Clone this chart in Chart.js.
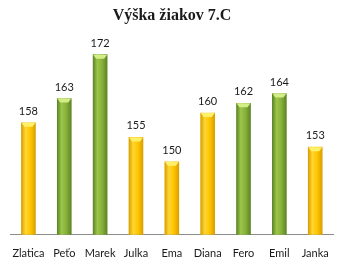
<!DOCTYPE html>
<html>
<head>
<meta charset="utf-8">
<script src="https://cdn.jsdelivr.net/npm/chart.js@4.4.1/dist/chart.umd.min.js"></script>
<style>
  html, body { margin: 0; padding: 0; background: #fff; }
  #wrap { width: 341px; height: 262px; }
</style>
</head>
<body>
<div id="wrap"><canvas id="vyska"></canvas></div>
<script>
// student names and heights (cm)
const names = ['Zlatica', 'Peťo', 'Marek', 'Julka', 'Ema', 'Diana', 'Fero', 'Emil', 'Janka'];
const heights = [158, 163, 172, 155, 150, 160, 162, 164, 153];
// g = girl (yellow), b = boy (green)
const groups = ['g', 'b', 'b', 'g', 'g', 'g', 'b', 'b', 'g'];

const BAR_W = 14;

// colours for each group: edge, middle, top cap
const palette = {
  g: { edge: '#D9A000', mid: '#FFC400', light: '#FFD633', cap: '#FFF06A' },
  b: { edge: '#5C8526', mid: '#86B038', light: '#9CC64A', cap: '#D3EE86' }
};

function barFill(context) {
  const chart = context.chart;
  const xs = chart.scales.x;
  const grp = groups[context.dataIndex] || 'g';
  const c = palette[grp];
  if (!xs || context.dataIndex === undefined) return c.mid;
  const x = xs.getPixelForValue(context.dataIndex);
  if (!isFinite(x)) return c.mid;
  const g = chart.ctx.createLinearGradient(x - BAR_W / 2, 0, x + BAR_W / 2, 0);
  g.addColorStop(0, c.edge);
  g.addColorStop(0.3, c.light);
  g.addColorStop(0.65, c.mid);
  g.addColorStop(1, c.edge);
  return g;
}

// value labels and a lighter bevel on top of each bar
const barExtras = {
  id: 'barExtras',
  afterDatasetsDraw(chart) {
    const ctx = chart.ctx;
    const meta = chart.getDatasetMeta(0);
    ctx.save();
    meta.data.forEach((bar, i) => {
      const c = palette[groups[i]];
      const left = bar.x - BAR_W / 2;
      const right = bar.x + BAR_W / 2;
      ctx.fillStyle = c.cap;
      ctx.beginPath();
      ctx.moveTo(left, bar.y);
      ctx.lineTo(right, bar.y);
      ctx.lineTo(right - 3, bar.y + 4);
      ctx.lineTo(left + 3, bar.y + 4);
      ctx.closePath();
      ctx.fill();

      ctx.fillStyle = '#1a1a1a';
      ctx.font = '11px Lato, "Liberation Sans", sans-serif';
      ctx.textAlign = 'center';
      ctx.textBaseline = 'bottom';
      ctx.fillText(heights[i], bar.x, bar.y - 6);
    });
    ctx.restore();
  }
};

new Chart(document.getElementById('vyska'), {
  type: 'bar',
  data: {
    labels: names,
    datasets: [{
      data: heights,
      backgroundColor: barFill,
      borderWidth: 0,
      barThickness: BAR_W
    }]
  },
  options: {
    responsive: true,
    maintainAspectRatio: false,
    animation: false,
    layout: { padding: { left: 9, right: 6, top: 2, bottom: -10 } },
    plugins: {
      legend: { display: false },
      tooltip: { enabled: false },
      title: {
        display: true,
        text: 'Výška žiakov 7.C',
        color: '#1a1a1a',
        font: { family: '"Liberation Serif", serif', size: 16, weight: 'bold' },
        padding: { top: 4, bottom: 10 }
      }
    },
    scales: {
      x: {
        grid: { display: false, drawTicks: false },
        border: { display: true, color: '#8c8c8c', width: 1 },
        ticks: {
          color: '#1a1a1a',
          padding: 12,
          maxRotation: 0,
          minRotation: 0,
          autoSkip: false,
          font: { family: 'Lato, "Liberation Sans", sans-serif', size: 11 }
        }
      },
      y: {
        display: false,
        min: 135,
        max: 176
      }
    }
  },
  plugins: [barExtras]
});
</script>
</body>
</html>
